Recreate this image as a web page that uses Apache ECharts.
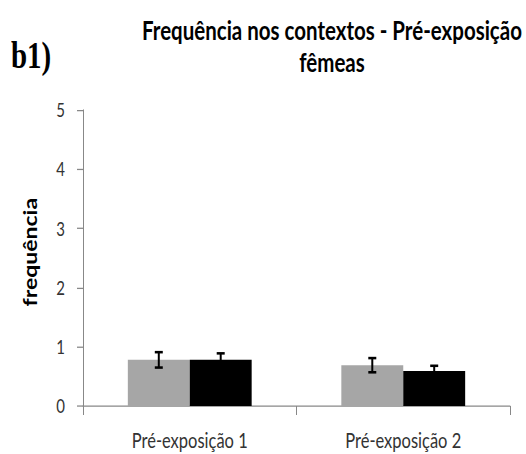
<!DOCTYPE html>
<html>
<head>
<meta charset="utf-8">
<script src="https://cdn.jsdelivr.net/npm/echarts@6/dist/echarts.min.js"></script>
<style>
  html, body { margin: 0; padding: 0; background: #fff; width: 526px; height: 454px; overflow: hidden; }
  #frame { position: relative; width: 526px; height: 454px; overflow: hidden; }
  /* the figure uses tall, condensed lettering: draw at a shorter height and stretch vertically */
  #chart { position: absolute; left: 0; top: 0; width: 526px; height: 366px; transform: scaleY(1.2789); transform-origin: 0 0; }
</style>
</head>
<body>
<div id="frame"><div id="chart"></div></div>
<script>
// Mean frequency per context, pre-exposure phase (females)
const categories = ['Pré-exposição 1', 'Pré-exposição 2'];
const grayValues = [0.78, 0.69];
const grayErrors = [0.13, 0.12];
const blackValues = [0.78, 0.59];
const blackErrors = [0.11, 0.09];
const yTicks = [0, 1, 2, 3, 4, 5];

const BAR_FRACTION = 0.29; // each bar's share of the category band

function errorSeries(values, errors, side, color) {
  return {
    type: 'custom',
    z: 5,
    data: values.map((v, i) => [i, v, errors[i]]),
    renderItem: function (params, api) {
      const idx = api.value(0);
      const mean = api.value(1);
      const err = api.value(2);
      const band = api.size([1, 0])[0];
      const dx = side * band * BAR_FRACTION / 2;
      const top = api.coord([idx, mean + err]);
      const bot = api.coord([idx, mean - err]);
      const x = top[0] + dx;
      const cap = 4;
      const style = { stroke: color, lineWidth: 2 };
      return {
        type: 'group',
        children: [
          { type: 'line', shape: { x1: x, y1: top[1], x2: x, y2: bot[1] }, style: style },
          { type: 'line', shape: { x1: x - cap, y1: top[1], x2: x + cap, y2: top[1] }, style: style },
          { type: 'line', shape: { x1: x - cap, y1: bot[1], x2: x + cap, y2: bot[1] }, style: style }
        ]
      };
    }
  };
}

const chart = echarts.init(document.getElementById('chart'), null, { renderer: 'svg' });
chart.setOption({
  animation: false,
  textStyle: { fontFamily: 'Lato' },
  title: {
    text: 'Frequência nos contextos - Pré-exposição\nfêmeas',
    left: 327,
    top: 6,
    textAlign: 'center',
    textStyle: { fontFamily: 'Lato', fontWeight: 'bold', fontSize: 20.5, lineHeight: 25, color: '#000' }
  },
  graphic: [
    {
      type: 'text',
      left: 11,
      top: 29,
      style: { text: 'b1)', font: 'bold 29px "Liberation Serif"', fill: '#000' }
    }
  ],
  grid: { left: 83, right: 16, top: 86, bottom: 48.5 },
  xAxis: {
    type: 'category',
    data: categories,
    axisLine: { lineStyle: { color: '#888', width: 1 } },
    axisTick: { show: true, length: 7, lineStyle: { color: '#888' } },
    axisLabel: { color: '#333', fontSize: 16.5, margin: 18 }
  },
  yAxis: {
    type: 'value',
    min: yTicks[0],
    max: yTicks[yTicks.length - 1],
    interval: 1,
    name: 'frequência',
    nameLocation: 'middle',
    nameGap: 44,
    nameTextStyle: { fontFamily: 'Lato', fontWeight: 'bold', fontSize: 18, color: '#000', padding: [0, 0, 0, 9] },
    axisLine: { show: true, lineStyle: { color: '#888', width: 1 } },
    axisTick: { show: true, length: 6, lineStyle: { color: '#888' } },
    axisLabel: { color: '#333', fontSize: 15, margin: 18 },
    splitLine: { show: false }
  },
  series: [
    {
      type: 'bar',
      data: grayValues,
      barGap: '0%',
      barCategoryGap: '42%',
      itemStyle: { color: '#a6a6a6' }
    },
    {
      type: 'bar',
      data: blackValues,
      barGap: '0%',
      barCategoryGap: '42%',
      itemStyle: { color: '#000' }
    },
    errorSeries(grayValues, grayErrors, -1, '#000'),
    errorSeries(blackValues, blackErrors, 1, '#000')
  ]
});
</script>
</body>
</html>
